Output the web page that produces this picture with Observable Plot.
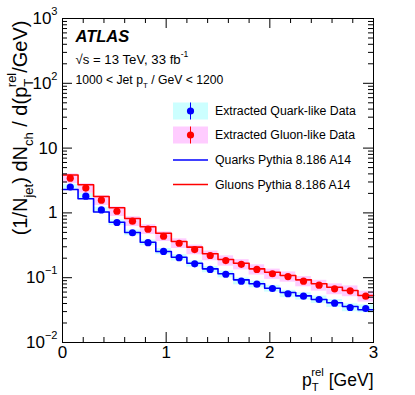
<!DOCTYPE html>
<html><head><meta charset="utf-8">
<script src="https://cdn.jsdelivr.net/npm/d3@7"></script>
<script src="https://cdn.jsdelivr.net/npm/@observablehq/plot@0.6"></script>
<style>body{margin:0;background:#fff}</style>
</head><body><div id="chart"></div>
<script>
// ---- data ----
const binEdges = [0,0.15,0.3,0.45,0.6,0.75,0.9,1.05,1.2,1.35,1.5,1.65,1.8,1.95,2.1,2.25,2.4,2.55,2.7,2.85,3.0];
const quarkData  = [2.51,1.81,1.11,0.711,0.494,0.347,0.254,0.204,0.164,0.134,0.113,0.0883,0.0794,0.0681,0.0565,0.0519,0.0461,0.0404,0.0347,0.0335];
const gluonData  = [3.43,2.42,1.57,1.06,0.745,0.56,0.436,0.340,0.272,0.220,0.184,0.161,0.134,0.115,0.104,0.0883,0.0766,0.0674,0.0628,0.0519];
const quarkUnc   = [0.10,0.10,0.10,0.10,0.10,0.10,0.11,0.11,0.11,0.11,0.12,0.12,0.12,0.12,0.13,0.13,0.13,0.14,0.14,0.14];
const gluonUnc   = [0.17,0.17,0.17,0.17,0.17,0.17,0.17,0.17,0.17,0.17,0.18,0.18,0.18,0.18,0.18,0.18,0.19,0.19,0.19,0.19];
const quarkMC    = [2.30,1.65,1.03,0.718,0.499,0.353,0.254,0.207,0.1675,0.137,0.115,0.0927,0.0805,0.0689,0.0591,0.0525,0.0461,0.0410,0.0360,0.0320];
const gluonMC    = [3.85,2.72,1.79,1.20,0.82,0.61,0.486,0.362,0.296,0.234,0.191,0.1675,0.137,0.1216,0.108,0.0927,0.0805,0.0713,0.0634,0.0531];
const xMajor = [0,1,2,3];
const xMinor = [0.2,0.4,0.6,0.8,1.2,1.4,1.6,1.8,2.2,2.4,2.6,2.8];
const yMajor = [0.01,0.1,1,10,100,1000];
const yMajorLabels = ["10^{−2}","10^{−1}","1","10","10^{2}","10^{3}"];
const legendLabels = ["Extracted Quark-like Data","Extracted Gluon-like Data","Quarks Pythia 8.186 A14","Gluons Pythia 8.186 A14"];
const xTitle = "p_{T}^{rel} [GeV]";
const yTitle = "(1/N_{jet}) dN_{ch} / d(p_{T}^{rel}/GeV)";
const atlasLines = ["ATLAS","√s = 13 TeV, 33 fb^{-1}","1000 < Jet p_{T} / GeV < 1200"];

// ---- build tables ----
const bins = quarkData.map((q,i)=>({x1:binEdges[i],x2:binEdges[i+1],xc:(binEdges[i]+binEdges[i+1])/2,
  q, g:gluonData[i], qu:quarkUnc[i], gu:gluonUnc[i], qmc:quarkMC[i], gmc:gluonMC[i]}));
const stepQ = binEdges.map((e,i)=>({x:e, y: quarkMC[Math.min(i, quarkMC.length-1)]}));
const stepG = binEdges.map((e,i)=>({x:e, y: gluonMC[Math.min(i, gluonMC.length-1)]}));
const yMinor = [];
for (let d=-2; d<=2; d++) for (let k=2; k<=9; k++) yMinor.push(k*Math.pow(10,d));

const W=415,H=395,mL=62,mR=42,mT=18,mB=53;
const fW=W-mL-mR, fH=H-mT-mB;
const BLUE="#0000ff", RED="#ff0000", CYAN="#ccffff", PINK="#ffccff";

function legendMark(){
  const g = d3.create("svg:g").attr("font-size",12.3).attr("fill","black").attr("text-anchor","start");
  const x0=173, x1=208, tx=215;
  const rows=[{y:111,kind:"data",band:CYAN,col:BLUE},{y:135,kind:"data",band:PINK,col:RED},
              {y:160,kind:"line",col:BLUE},{y:184.5,kind:"line",col:RED}];
  rows.forEach((r,i)=>{
    if(r.kind==="data"){
      g.append("rect").attr("x",x0).attr("y",r.y-8.5).attr("width",x1-x0).attr("height",17).attr("fill",r.band);
      g.append("line").attr("x1",(x0+x1)/2).attr("x2",(x0+x1)/2).attr("y1",r.y-8.5).attr("y2",r.y+8.5).attr("stroke",r.col).attr("stroke-width",1);
      g.append("circle").attr("cx",(x0+x1)/2).attr("cy",r.y).attr("r",3.6).attr("fill",r.col);
    } else {
      g.append("line").attr("x1",x0).attr("x2",x1).attr("y1",r.y).attr("y2",r.y).attr("stroke",r.col).attr("stroke-width",1.6);
    }
    g.append("text").attr("x",tx).attr("y",r.y).attr("dy","0.36em").attr("text-anchor","start").text(legendLabels[i]);
  });
  return g.node();
}

const fmtY = d => yMajorLabels[yMajor.indexOf(d)];
const plot = Plot.plot({
  width:W, height:H, marginLeft:mL, marginRight:mR, marginTop:mT, marginBottom:mB,
  style:{fontFamily:"'Liberation Sans', Arial, Helvetica, sans-serif", fontSize:"17px", color:"black", background:"white", overflow:"visible"},
  x:{domain:[0,3]},
  y:{type:"log", domain:[0.01,1000]},
  marks:[
    Plot.rect(bins,{x1:"x1",x2:"x2",y1:d=>d.q*(1-d.qu),y2:d=>d.q*(1+d.qu),fill:CYAN}),
    Plot.rect(bins,{x1:"x1",x2:"x2",y1:d=>d.g*(1-d.gu),y2:d=>d.g*(1+d.gu),fill:PINK}),
    Plot.line(stepQ,{x:"x",y:"y",curve:"step-after",stroke:BLUE,strokeWidth:1.6}),
    Plot.line(stepG,{x:"x",y:"y",curve:"step-after",stroke:RED,strokeWidth:1.6}),
    Plot.dot(bins,{x:"xc",y:"q",r:3.6,fill:BLUE}),
    Plot.dot(bins,{x:"xc",y:"g",r:3.6,fill:RED}),
    // ticks (inward, on all four sides)
    Plot.tickX(xMinor,{x:d=>d,insetTop:fH-5,stroke:"black"}),
    Plot.tickX(xMinor,{x:d=>d,insetBottom:fH-5,stroke:"black"}),
    Plot.tickX(xMajor,{x:d=>d,insetTop:fH-10,stroke:"black"}),
    Plot.tickX(xMajor,{x:d=>d,insetBottom:fH-10,stroke:"black"}),
    Plot.tickY(yMinor,{y:d=>d,insetRight:fW-5,stroke:"black"}),
    Plot.tickY(yMinor,{y:d=>d,insetLeft:fW-5,stroke:"black"}),
    Plot.tickY(yMajor,{y:d=>d,insetRight:fW-10,stroke:"black"}),
    Plot.tickY(yMajor,{y:d=>d,insetLeft:fW-10,stroke:"black"}),
    Plot.frame({stroke:"black",strokeWidth:1}),
    Plot.axisX({ticks:xMajor,tickSize:0,tickPadding:3,tickFormat:d=>String(d),label:null,fontSize:17}),
    Plot.axisY({ticks:yMajor,tickSize:0,tickPadding:5,tickFormat:fmtY,label:null,fontSize:17}),
    Plot.text([xTitle],{text:d=>d,frameAnchor:"bottom-right",dy:43,textAnchor:"end",lineAnchor:"bottom",fontSize:17.5}),
    Plot.text([yTitle],{text:d=>d,frameAnchor:"top-left",dx:-36,dy:2,rotate:-90,textAnchor:"end",lineAnchor:"bottom",fontSize:20}),
    Plot.text([atlasLines[0]],{text:d=>d,frameAnchor:"top-left",dx:13,dy:23.7,textAnchor:"start",lineAnchor:"bottom",fontSize:16.5,fontWeight:"bold",fontStyle:"italic"}),
    Plot.text([atlasLines[1]],{text:d=>d,frameAnchor:"top-left",dx:13,dy:45.5,textAnchor:"start",lineAnchor:"bottom",fontSize:13.2}),
    Plot.text([atlasLines[2]],{text:d=>d,frameAnchor:"top-left",dx:13,dy:65.5,textAnchor:"start",lineAnchor:"bottom",fontSize:12.2}),
    legendMark
  ]
});
document.getElementById("chart").appendChild(plot);

function richify(root){
  const NS="http://www.w3.org/2000/svg";
  root.querySelectorAll("text").forEach(t=>{
    const s=t.textContent;
    if(!/[_^]\{/.test(s)) return;
    const fs=parseFloat(getComputedStyle(t).fontSize);
    const tokens=[]; const re=/([_^])\{([^}]*)\}|([^_^]+)/g; let m;
    while((m=re.exec(s))) tokens.push(m[3]!=null?{k:"n",s:m[3]}:{k:m[1]==="_"?"sub":"sup",s:m[2]});
    while(t.firstChild) t.removeChild(t.firstChild);
    t.style.whiteSpace="pre";
    let cur=0, prev=null, pend=0;
    for(const tok of tokens){
      const el=document.createElementNS(NS,"tspan");
      el.textContent=tok.s;
      let off=0;
      if(tok.k==="sub"){off=0.32*fs; el.setAttribute("font-size",0.65*fs);}
      if(tok.k==="sup"){off=-0.52*fs; el.setAttribute("font-size",0.65*fs);}
      const dy=off-cur; if(dy!==0) el.setAttribute("dy",dy);
      let dx=pend; pend=0;
      if(tok.k==="sup"&&prev&&prev.k==="sub") dx-=prev.w;
      if(dx) el.setAttribute("dx",dx);
      t.appendChild(el);
      const w=el.getComputedTextLength();
      if(tok.k==="sup"&&prev&&prev.k==="sub"&&prev.w>w) pend=prev.w-w;
      cur=off; prev={k:tok.k,w};
    }
  });
}
richify(plot);
</script></body></html>
